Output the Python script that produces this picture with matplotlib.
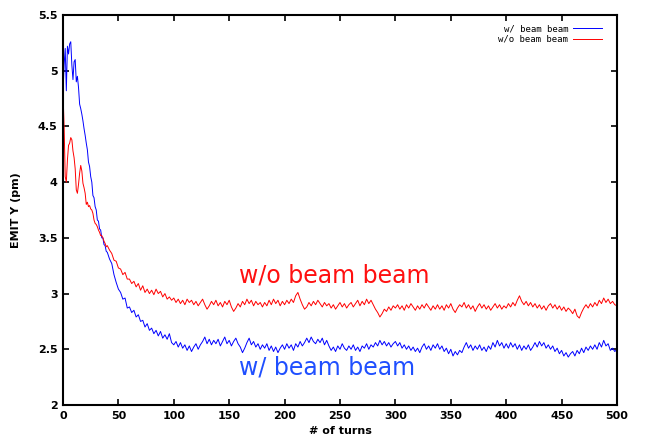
import matplotlib

matplotlib.use("Agg")
import matplotlib.pyplot as plt

# sample turns: every turn up to 39, then every second turn
turns = list(range(0, 40)) + list(range(40, 501, 2))

# EMIT Y (pm) with beam-beam
emit_bb = [
    4.80, 5.05, 5.20, 4.82, 5.22, 5.15, 5.24, 5.26, 5.05, 4.92,
    5.08, 5.10, 4.90, 4.95, 4.85, 4.70, 4.66, 4.61, 4.55, 4.48,
    4.42, 4.35, 4.29, 4.18, 4.14, 4.05, 4.00, 3.88, 3.86, 3.78,
    3.75, 3.66, 3.65, 3.58, 3.57, 3.50, 3.50, 3.44, 3.43, 3.38,
    # 40 .. 500, step 2
    3.37, 3.31, 3.27, 3.17, 3.10, 3.04, 3.01, 2.95, 2.96, 2.87,
    2.88, 2.83, 2.85, 2.79, 2.81, 2.75, 2.76, 2.70, 2.73, 2.67,
    2.69, 2.64, 2.67, 2.62, 2.66, 2.60, 2.63, 2.59, 2.64, 2.56,
    2.54, 2.57, 2.52, 2.56, 2.51, 2.54, 2.49, 2.53, 2.48, 2.52,
    2.55, 2.50, 2.54, 2.57, 2.61, 2.55, 2.59, 2.54, 2.58, 2.55,
    2.59, 2.53, 2.57, 2.61, 2.55, 2.58, 2.53, 2.57, 2.60, 2.55,
    2.52, 2.47, 2.51, 2.56, 2.60, 2.54, 2.57, 2.52, 2.55, 2.50,
    2.54, 2.51, 2.55, 2.49, 2.53, 2.48, 2.52, 2.47, 2.51, 2.54,
    2.50, 2.55, 2.51, 2.54, 2.49, 2.55, 2.52, 2.57, 2.53, 2.56,
    2.60, 2.56, 2.61, 2.57, 2.55, 2.59, 2.56, 2.60, 2.54, 2.58,
    2.53, 2.49, 2.52, 2.48, 2.53, 2.50, 2.55, 2.51, 2.49, 2.53,
    2.50, 2.54, 2.49, 2.52, 2.48, 2.53, 2.51, 2.55, 2.50, 2.54,
    2.52, 2.56, 2.53, 2.58, 2.54, 2.57, 2.53, 2.56, 2.52, 2.55,
    2.57, 2.53, 2.56, 2.51, 2.54, 2.50, 2.53, 2.49, 2.52, 2.48,
    2.51, 2.47, 2.52, 2.55, 2.50, 2.53, 2.49, 2.54, 2.51, 2.55,
    2.50, 2.53, 2.48, 2.51, 2.46, 2.50, 2.44, 2.48, 2.45, 2.49,
    2.47, 2.52, 2.56, 2.51, 2.54, 2.49, 2.53, 2.50, 2.54, 2.49,
    2.52, 2.48, 2.53, 2.50, 2.56, 2.52, 2.58, 2.53, 2.56, 2.51,
    2.55, 2.51, 2.56, 2.52, 2.55, 2.50, 2.54, 2.49, 2.53, 2.50,
    2.54, 2.49, 2.52, 2.56, 2.52, 2.57, 2.53, 2.56, 2.51, 2.54,
    2.50, 2.53, 2.48, 2.51, 2.46, 2.49, 2.44, 2.47, 2.43, 2.46,
    2.48, 2.44, 2.49, 2.46, 2.51, 2.47, 2.52, 2.49, 2.53, 2.50,
    2.54, 2.50, 2.56, 2.52, 2.58, 2.53, 2.55, 2.49, 2.51, 2.48,
    2.50,
]

# EMIT Y (pm) without beam-beam
emit_nobb = [
    4.80, 4.50, 4.05, 4.00, 4.20, 4.33, 4.35, 4.40, 4.38, 4.28,
    4.22, 4.12, 3.93, 3.90, 3.98, 4.08, 4.15, 4.10, 3.99, 3.95,
    3.90, 3.80, 3.82, 3.78, 3.79, 3.76, 3.75, 3.72, 3.66, 3.63,
    3.62, 3.60, 3.57, 3.55, 3.52, 3.52, 3.50, 3.47, 3.45, 3.42,
    # 40 .. 500, step 2
    3.43, 3.39, 3.36, 3.30, 3.29, 3.23, 3.22, 3.17, 3.19, 3.13,
    3.13, 3.09, 3.11, 3.06, 3.09, 3.03, 3.07, 3.01, 3.04, 3.00,
    3.03, 2.99, 3.04, 3.00, 3.02, 2.97, 3.00, 2.95, 2.97, 2.94,
    2.96, 2.92, 2.95, 2.91, 2.94, 2.90, 2.95, 2.92, 2.94, 2.90,
    2.93, 2.89, 2.92, 2.95, 2.90, 2.86, 2.89, 2.93, 2.90, 2.94,
    2.89, 2.92, 2.88, 2.93, 2.90, 2.94, 2.88, 2.84, 2.87, 2.91,
    2.88, 2.93, 2.90, 2.95, 2.91, 2.94, 2.89, 2.93, 2.90, 2.92,
    2.88, 2.92, 2.89, 2.94, 2.90, 2.95, 2.91, 2.94, 2.89, 2.93,
    2.90, 2.94, 2.91, 2.95, 2.92, 2.98, 3.01, 2.95, 2.90, 2.86,
    2.88, 2.92, 2.89, 2.93, 2.90, 2.94, 2.91, 2.88, 2.92, 2.89,
    2.91, 2.87, 2.90, 2.86, 2.89, 2.92, 2.88, 2.91, 2.87, 2.90,
    2.92, 2.88, 2.91, 2.94, 2.89, 2.93, 2.90, 2.95, 2.91, 2.94,
    2.90, 2.86, 2.83, 2.79, 2.82, 2.86, 2.84, 2.88, 2.85, 2.89,
    2.87, 2.90, 2.86, 2.89, 2.85, 2.90, 2.87, 2.91, 2.88, 2.85,
    2.89, 2.86, 2.90, 2.87, 2.91, 2.88, 2.85, 2.89, 2.86, 2.90,
    2.86, 2.89, 2.85, 2.90, 2.87, 2.91, 2.86, 2.83, 2.87, 2.90,
    2.88, 2.92, 2.87, 2.90, 2.86, 2.89, 2.84, 2.88, 2.91, 2.87,
    2.90, 2.86, 2.89, 2.85, 2.88, 2.91, 2.87, 2.90, 2.86, 2.89,
    2.87, 2.91, 2.88, 2.92, 2.89, 2.94, 2.98, 2.93, 2.90, 2.93,
    2.89, 2.92, 2.88, 2.91, 2.87, 2.90, 2.86, 2.89, 2.85, 2.89,
    2.91, 2.87, 2.90, 2.86, 2.89, 2.85, 2.88, 2.84, 2.87, 2.85,
    2.82, 2.86, 2.80, 2.78, 2.83, 2.87, 2.90, 2.87, 2.91, 2.88,
    2.92, 2.89, 2.94, 2.91, 2.96, 2.92, 2.95, 2.91, 2.93, 2.90,
    2.89,
]

x_ticks = list(range(0, 501, 50))
y_ticks = [2, 2.5, 3, 3.5, 4, 4.5, 5, 5.5]
y_tick_labels = ["2", "2.5", "3", "3.5", "4", "4.5", "5", "5.5"]

fig = plt.figure(figsize=(6.46, 4.44), dpi=100)
ax = fig.add_axes([63 / 646, 39 / 444, 554 / 646, 390 / 444])

ax.plot(turns, emit_bb, color="#0000ff", lw=0.7, label="w/ beam beam")
ax.plot(turns, emit_nobb, color="#ff0000", lw=0.7, label="w/o beam beam")

ax.set_xlim(0, 500)
ax.set_ylim(2, 5.5)
ax.set_xticks(x_ticks)
ax.set_yticks(y_ticks)
ax.set_yticklabels(y_tick_labels)
ax.tick_params(direction="in", top=True, right=True, length=4, width=1.2,
               labelsize=8, pad=4)
for lab in ax.get_xticklabels() + ax.get_yticklabels():
    lab.set_fontweight("bold")
for spine in ax.spines.values():
    spine.set_linewidth(1.5)

ax.set_xlabel("# of turns", fontsize=8, fontweight="bold", labelpad=4)
ax.set_ylabel("EMIT Y (pm)", fontsize=8, fontweight="bold", labelpad=12)

# big in-plot labels
ax.text(159, 3.10, "w/o beam beam", color="#ff1010", fontsize=17,
        family="DejaVu Sans", ha="left", va="baseline")
ax.text(159, 2.27, "w/ beam beam", color="#1f4fff", fontsize=17,
        family="DejaVu Sans", ha="left", va="baseline")

ax.legend(loc="upper right", bbox_to_anchor=(0.98, 0.985), frameon=False,
          markerfirst=False, handlelength=3.2, handletextpad=0.6,
          labelspacing=0.15, borderaxespad=0.0,
          prop={"family": "DejaVu Sans Mono", "size": 6.5})

fig.savefig("out.png", dpi=100)
